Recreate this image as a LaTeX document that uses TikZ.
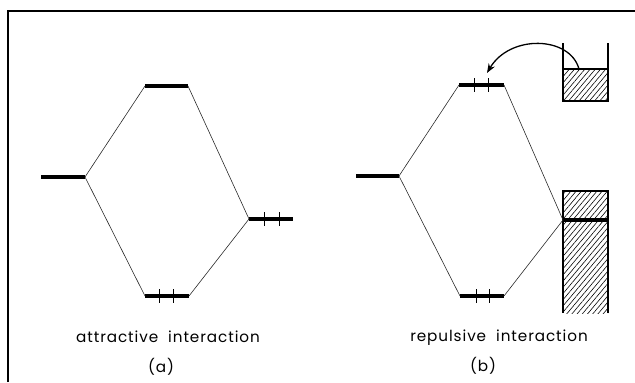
\documentclass[tikz,border=0pt]{standalone}
\usepackage{fontspec}
\setmainfont{Poppins}[LetterSpace=6]
\usetikzlibrary{arrows.meta,patterns.meta}
\tikzset{
  orbital/.style={line width=2.6pt},
  corr/.style={line width=0.5pt, draw=black!85},
  spin/.style={line width=0.8pt},
  band/.style={line width=1.3pt},
  hatch/.style={pattern={Lines[angle=50,distance=3.4pt,line width=0.5pt]}},
  caption/.style={font=\fontsize{13}{15}\selectfont, inner sep=0pt},
  flow/.style={-{Stealth[length=8pt,width=6pt]}, line width=1.1pt},
  frame/.style={line width=1.1pt}
}

\begin{document}
\begin{tikzpicture}[x=0.03cm, y=-0.03cm]
  \useasboundingbox (0,0) rectangle (635,382);
  \draw[frame] (8,382) -- (8,11) -- (635,11);

  % (a) attractive
  \coordinate (aL1) at (41,177);  \coordinate (aL2) at (85,177);
  \coordinate (aT1) at (145,86);  \coordinate (aT2) at (188,86);
  \coordinate (aB1) at (145,296); \coordinate (aB2) at (189,296);
  \coordinate (aR1) at (249,219); \coordinate (aR2) at (293,219);

  \draw[orbital] (aL1) -- (aL2);
  \draw[orbital] (aT1) -- (aT2);
  \draw[orbital] (aB1) -- (aB2);
  \draw[orbital] (aR1) -- (aR2);
  \draw[corr] (aT1) -- (aL2) -- (aB1);
  \draw[corr] (aT2) -- (aR1) -- (aB2);
  \foreach \x in {159,173} \draw[spin] (\x,289) -- (\x,303);
  \foreach \x in {264,279} \draw[spin] (\x,212) -- (\x,226);

  \node[caption] (capA) at (168,337) {attractive\ \ interaction};
  \node[caption] (labA) at (161,367) {(a)};

  % (b) repulsive
  \coordinate (bL1) at (356,176); \coordinate (bL2) at (399,176);
  \coordinate (bT1) at (459,85);  \coordinate (bT2) at (504,85);
  \coordinate (bB1) at (460,296); \coordinate (bB2) at (504,296);
  \coordinate (bF1) at (563,220); \coordinate (bF2) at (608,220);

  \fill[hatch] (563,191) rectangle (608,313);
  \draw[band] (563,313) -- (563,191) -- (608,191) -- (608,313);
  \draw[orbital] (bF1) -- (bF2);

  \fill[hatch] (563,69) rectangle (608,101);
  \draw[band] (563,43) -- (563,101) -- (608,101) -- (608,43);
  \draw[band] (563,69) -- (608,69);

  \draw[orbital] (bL1) -- (bL2);
  \draw[orbital] (bT1) -- (bT2);
  \draw[orbital] (bB1) -- (bB2);
  \draw[corr] (bT1) -- (bL2) -- (bB1);
  \draw[corr] (bT2) -- (bF1) -- (bB2);
  \foreach \x in {474,488} \draw[spin] (\x,78) -- (\x,92);
  \foreach \x in {476,489} \draw[spin] (\x,289) -- (\x,303);

  \coordinate (src) at (579,69);
  \coordinate (dst) at (487,73);
  \draw[flow] (src) .. controls (570,36) and (510,34) .. (dst);

  \node[caption] (capB) at (499,338) {repulsive\ \ interaction};
  \node[caption] (labB) at (483,366) {(b)};
\end{tikzpicture}
\end{document}
